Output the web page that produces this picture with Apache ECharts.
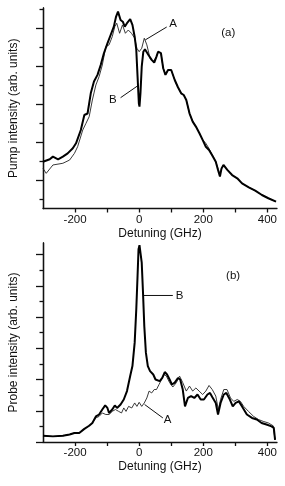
<!DOCTYPE html>
<html><head><meta charset="utf-8">
<script src="https://cdn.jsdelivr.net/npm/echarts@6/dist/echarts.min.js"></script>
<style>html,body{margin:0;padding:0;background:#fff}#c{width:285px;height:486px}</style>
</head><body><div id="c"></div>
<script>
// Panel (a): pump intensity
const pumpXB = [-300,-279,-269,-253,-238,-223,-207,-197,-182,-171,-161,-151,-141,-130,-120,-110,-99,-89,-79,-72,-66,-58,-51,-45,-38,-28,-21,-14,-9,-5,-1,1,4,8,13,18,29,39,47,54,59,68,75,82,90,100,111,121,131,139,147,157,167,177,188,198,208,218,229,239,246,252,257,263,275,290,306,321,342,362,383,403,427];
const pumpB  = [2.46,2.59,2.73,2.59,2.73,2.90,3.17,3.43,4.13,4.92,5.00,6.06,6.68,7.03,7.55,8.17,8.69,9.13,9.57,10.10,10.36,9.92,9.83,9.57,9.75,9.96,9.66,9.04,8.34,6.94,5.54,5.36,6.06,7.46,8.25,8.38,8.08,7.82,7.68,7.99,8.25,8.17,7.38,7.03,7.29,7.29,6.76,6.38,6.06,5.97,5.71,5.01,4.57,4.31,3.96,3.61,3.25,3.08,2.76,2.46,2.03,1.68,2.11,2.29,2.03,1.76,1.59,1.32,1.11,0.94,0.71,0.54,0.36];
const pumpXA = [-300,-290,-269,-238,-217,-202,-192,-176,-166,-156,-146,-135,-125,-115,-104,-94,-84,-76,-70,-61,-52,-43,-34,-24,-14,-7,0,8,16,24,34,44,54,59,68,75,82,90,100,111,121,131,139,147,157,167,177,188,198,208,218,229,239,246,252,257,263,275,290,306,321,342,362,383,403,427];
const pumpA  = [2.11,1.85,2.29,2.38,2.55,2.90,3.25,4.13,4.48,4.83,5.71,6.50,6.94,7.55,8.52,8.61,9.04,9.57,9.75,9.22,9.66,9.22,9.39,9.22,8.96,8.43,8.25,8.43,8.96,8.61,7.90,7.73,7.99,8.25,8.17,7.38,7.03,7.29,7.29,6.76,6.38,6.06,5.97,5.71,5.01,4.57,4.31,3.96,3.61,3.43,3.15,2.80,2.46,2.10,1.80,2.11,2.29,2.03,1.76,1.59,1.32,1.11,0.94,0.71,0.54,0.36];

// Panel (b): probe intensity
const probeXB = [-300,-269,-238,-217,-202,-187,-171,-156,-146,-135,-125,-115,-106,-99,-94,-84,-76,-69,-58,-48,-38,-28,-21,-14,-9,-5,-2,1,5,8,12,16,21,27,34,44,51,57,64,72,80,87,95,102,111,121,128,136,143,152,162,172,182,192,202,213,221,228,239,246,254,264,272,283,292,301,311,321,336,352,367,382,397,413,420,424];
const probeB  = [0.20,0.18,0.20,0.24,0.29,0.29,0.42,0.52,0.61,0.82,0.88,1.04,1.17,1.09,0.93,1.04,1.17,1.09,1.20,1.36,1.63,2.11,2.43,3.18,4.25,5.32,6.17,6.30,6.28,5.74,4.78,3.71,2.86,2.43,2.27,2.16,2.00,2.05,1.95,2.05,2.24,2.16,2.00,1.84,1.90,2.05,2.00,1.68,1.14,1.41,1.47,1.41,1.52,1.36,1.36,1.52,1.57,1.44,1.25,0.88,1.25,1.52,1.57,1.36,1.14,1.25,1.30,1.14,0.88,0.77,0.72,0.61,0.56,0.50,0.45,0.07];
const probeXA = [-300,-269,-238,-217,-202,-187,-171,-156,-146,-135,-125,-115,-104,-94,-84,-74,-64,-55,-48,-41,-33,-23,-14,-7,0,8,16,24,31,39,47,54,62,70,78,85,95,105,116,126,136,147,157,167,177,187,198,208,218,228,239,247,254,264,274,285,295,306,316,326,341,357,372,387,403,418,424];
const probeA  = [0.20,0.18,0.20,0.24,0.29,0.29,0.42,0.52,0.61,0.77,0.82,0.93,0.88,0.88,0.98,1.04,0.98,0.93,1.09,0.98,1.14,1.09,1.25,1.14,1.27,1.14,1.25,1.41,1.63,1.57,1.68,1.68,1.84,2.00,2.16,2.11,1.90,1.76,1.90,2.11,1.90,1.63,1.79,1.63,1.73,1.63,1.52,1.63,1.81,1.68,1.47,1.04,1.36,1.68,1.68,1.41,1.30,1.36,1.30,1.14,0.98,0.82,0.72,0.66,0.61,0.52,0.07];

// Axis ticks and labels
const xTickValues = [-200,-100,0,100,200,300,400];
const xLabelValues = [-200,0,200,400];
const pumpLongTicks = [1.5,3.5,5.5,7.5,9.5];
const pumpShortTicks = [0.5,2.5,4.5,6.5,8.5,10.5];
const probeLongTicks = [0,1,2,3,4,5,6];
const probeShortTicks = [0.5,1.5,2.5,3.5,4.5,5.5];

// Annotations (data coordinates)
const annotations = [
  {grid:0, text:'A', at:[106,9.73], line:[[86,9.55],[19,8.87]]},
  {grid:0, text:'B', at:[-82,5.71], line:[[-58,5.83],[-5,6.45]]},
  {grid:0, text:'(a)', at:[278,9.24]},
  {grid:1, text:'B', at:[126,4.69], line:[[15,4.69],[105,4.69]]},
  {grid:1, text:'A', at:[89,0.71], line:[[17,1.2],[74,0.77]]},
  {grid:1, text:'(b)', at:[293,5.32]}
];

const zip = (xs, ys) => xs.map((x,i)=>[x, ys[i]]);
const FONT = 'Liberation Sans, Arial, sans-serif';
const chart = echarts.init(document.getElementById('c'), null, {renderer:'canvas'});

function xAxisCfg(gi){
  return {type:'value', gridIndex:gi, min:-300, max:430,
    name:'Detuning (GHz)', nameLocation:'middle', nameGap:19,
    nameTextStyle:{fontFamily:FONT, fontSize:12, color:'#111'},
    axisLine:{onZero:false, lineStyle:{color:'#111', width:1.3}},
    axisTick:{customValues:xTickValues, length:4, lineStyle:{color:'#111', width:1.3}},
    axisLabel:{customValues:xLabelValues, fontFamily:FONT, fontSize:11.5, color:'#111', margin:5},
    splitLine:{show:false}};
}
function yAxisCfg(gi, max, ticks, len, name){
  return {type:'value', gridIndex:gi, min:0, max:max, position:'left', offset:0,
    name:name||'', nameLocation:'middle', nameGap:23,
    nameTextStyle:{fontFamily:FONT, fontSize:12, color:'#111'},
    axisLine:{show:true, onZero:false, lineStyle:{color:'#111', width:1.3}},
    axisTick:{show:true, customValues:ticks, length:len, lineStyle:{color:'#111', width:1.3}},
    axisLabel:{show:false}, splitLine:{show:false}};
}

chart.setOption({
  animation:false,
  backgroundColor:'#fff',
  grid:[
    {left:40, top:8, width:237, height:200.5},
    {left:40, top:243, width:237, height:199}
  ],
  xAxis:[xAxisCfg(0), xAxisCfg(1)],
  yAxis:[
    yAxisCfg(0, 10.55, pumpLongTicks, 7, 'Pump intensity (arb. units)'),
    yAxisCfg(0, 10.55, pumpShortTicks, 3.5),
    yAxisCfg(1, 6.37, probeLongTicks, 7, 'Probe intensity (arb. units)'),
    yAxisCfg(1, 6.37, probeShortTicks, 3.5)
  ],
  series:[
    {type:'line', xAxisIndex:0, yAxisIndex:0, data:zip(pumpXA,pumpA), showSymbol:false, lineStyle:{color:'#222', width:0.9}},
    {type:'line', xAxisIndex:0, yAxisIndex:0, data:zip(pumpXB,pumpB), showSymbol:false, lineStyle:{color:'#000', width:2}},
    {type:'line', xAxisIndex:1, yAxisIndex:2, data:zip(probeXA,probeA), showSymbol:false, lineStyle:{color:'#222', width:0.9}},
    {type:'line', xAxisIndex:1, yAxisIndex:2, data:zip(probeXB,probeB), showSymbol:false, lineStyle:{color:'#000', width:2}}
  ]
});

const graphics = [];
annotations.forEach(a => {
  const finder = {xAxisIndex: a.grid, yAxisIndex: a.grid*2};
  const p = chart.convertToPixel(finder, a.at);
  graphics.push({type:'text', x:p[0], y:p[1], style:{text:a.text, fontFamily:FONT, fontSize:11.5, fill:'#111', align:'center', verticalAlign:'middle'}});
  if (a.line){
    const p1 = chart.convertToPixel(finder, a.line[0]);
    const p2 = chart.convertToPixel(finder, a.line[1]);
    graphics.push({type:'line', shape:{x1:p1[0], y1:p1[1], x2:p2[0], y2:p2[1]}, style:{stroke:'#111', lineWidth:1}});
  }
});
chart.setOption({graphic: graphics});
</script>
</body></html>
